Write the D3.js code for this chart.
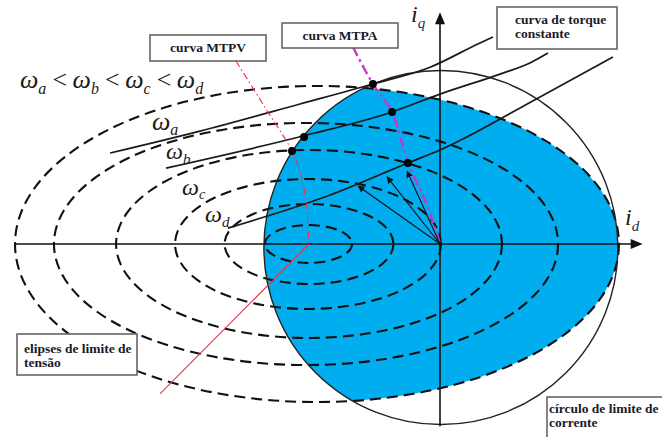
<!DOCTYPE html>
<html><head><meta charset="utf-8">
<script src="https://cdn.jsdelivr.net/npm/d3@7"></script>
<style>body{margin:0;background:#fff} svg{display:block}</style>
</head><body>
<svg id="chart" width="662" height="437"></svg>
<script>
// Voltage-limit ellipses (per-unit current): centre on the id axis and semi-axes
const ellipseCenters = [-0.743, -0.740, -0.746, -0.740, -0.757, -0.695];
const ellipseRx = [0.246, 0.477, 0.751, 1.090, 1.424, 1.706];
const ellipseRy = [0.107, 0.226, 0.367, 0.531, 0.684, 0.893];

// Current-limit circle
const circleCenter = [0.005, -0.02];
const circleRadius = 1.0;

// Constant-torque curves (id, iq)
const torqueA = [[-1.864,0.514],[-1.356,0.638],[-0.791,0.791],[-0.379,0.904],[-0.056,0.999],[0.226,1.136],[0.299,1.169]];
const torqueB = [[-1.548,0.429],[-0.774,0.610],[-0.271,0.746],[0,0.847],[0.339,0.960],[0.508,1.023],[0.610,1.079]];
const torqueC = [[-1.198,0.090],[-0.621,0.277],[-0.181,0.458],[0,0.531],[0.565,0.831],[0.977,1.056]];

// MTPV and MTPA trajectories
const mtpvUpper = [[-1.153,1.034],[-0.994,0.780],[-0.836,0.525],[-0.791,0.407],[-0.757,0.249],[-0.746,0.107],[-0.740,0]];
const mtpvLower = [[-0.740,0],[-1.582,-0.847]];
const mtpa = [[-0.492,1.113],[-0.379,0.904],[-0.271,0.746],[-0.181,0.458],[-0.085,0.249],[-0.028,0.090],[0,0]];

// Operating points and current vectors
const opPoints = [[-0.379,0.904],[-0.271,0.746],[-0.181,0.458],[-0.768,0.605],[-0.836,0.525]];
const vectorTips = [[-0.186,0.412],[-0.299,0.379],[-0.463,0.328]];

// Axis extents
const idExtent = [-2.40, 1.145];
const iqExtent = [-1.03, 1.31];

const svg = d3.select("#chart");
const x = d3.scaleLinear().domain([-1, 1]).range([263, 617]);
const y = d3.scaleLinear().domain([-1, 1]).range([421, 67]);
const k = x(1) - x(0);

const defs = svg.append("defs");
defs.append("clipPath").attr("id", "vlim")
  .append("ellipse")
  .attr("cx", x(ellipseCenters[5])).attr("cy", y(0))
  .attr("rx", ellipseRx[5] * k).attr("ry", ellipseRy[5] * k);
defs.append("marker").attr("id", "head")
  .attr("viewBox", "0 0 10 10").attr("refX", 9).attr("refY", 5)
  .attr("markerWidth", 7).attr("markerHeight", 7).attr("orient", "auto")
  .attr("markerUnits", "userSpaceOnUse")
  .append("path").attr("d", "M0,0 L10,5 L0,10 z").attr("fill", "#111");

// Feasible operating region
svg.append("ellipse")
  .attr("cx", x(circleCenter[0])).attr("cy", y(circleCenter[1]))
  .attr("rx", circleRadius * k).attr("ry", circleRadius * k)
  .attr("fill", "#00aeef").attr("clip-path", "url(#vlim)");

// Ellipses
svg.append("g").selectAll("ellipse").data(d3.range(ellipseRx.length)).join("ellipse")
  .attr("cx", i => x(ellipseCenters[i])).attr("cy", y(0))
  .attr("rx", i => ellipseRx[i] * k).attr("ry", i => ellipseRy[i] * k)
  .attr("fill", "none").attr("stroke", "#111").attr("stroke-width", 2.1)
  .attr("stroke-dasharray", "11,6");

// Current-limit circle
svg.append("ellipse")
  .attr("cx", x(circleCenter[0])).attr("cy", y(circleCenter[1]))
  .attr("rx", circleRadius * k).attr("ry", circleRadius * k)
  .attr("fill", "none").attr("stroke", "#222").attr("stroke-width", 1.4);

// Axes
const axisG = svg.append("g").attr("stroke", "#111").attr("stroke-width", 1.6);
axisG.append("line").attr("x1", x(idExtent[0])).attr("x2", x(idExtent[1]) - 8)
  .attr("y1", y(0)).attr("y2", y(0));
axisG.append("line").attr("x1", x(0)).attr("x2", x(0))
  .attr("y1", y(iqExtent[0])).attr("y2", y(iqExtent[1]) + 8);
svg.append("path")
  .attr("d", `M${x(idExtent[1])},${y(0)} l-12,-5 l0,10 z`).attr("fill", "#111");
svg.append("path")
  .attr("d", `M${x(0)},${y(iqExtent[1])} l-5,12 l10,0 z`).attr("fill", "#111");

// Constant-torque curves
const line = d3.line().x(d => x(d[0])).y(d => y(d[1])).curve(d3.curveMonotoneX);
svg.append("g").selectAll("path").data([torqueA, torqueB, torqueC]).join("path")
  .attr("d", line).attr("fill", "none").attr("stroke", "#1a1a1a")
  .attr("stroke-width", 1.7);

// MTPV
const lineCR = d3.line().x(d => x(d[0])).y(d => y(d[1])).curve(d3.curveCatmullRom);
svg.append("path").attr("d", lineCR(mtpvUpper)).attr("fill", "none")
  .attr("stroke", "#ee3340").attr("stroke-width", 1.1).attr("stroke-dasharray", "7,3,1.5,3");
svg.append("path").attr("d", lineCR(mtpvLower)).attr("fill", "none")
  .attr("stroke", "#ee3340").attr("stroke-width", 1.1);

// MTPA
svg.append("path").attr("d", lineCR(mtpa)).attr("fill", "none")
  .attr("stroke", "#cc33cc").attr("stroke-width", 2.4).attr("stroke-dasharray", "10,4,2.5,4");

// Current vectors
svg.append("g").selectAll("line").data(vectorTips).join("line")
  .attr("x1", x(0)).attr("y1", y(0))
  .attr("x2", d => x(d[0])).attr("y2", d => y(d[1]))
  .attr("stroke", "#111").attr("stroke-width", 1.1).attr("marker-end", "url(#head)");

// Operating points
svg.append("g").selectAll("circle").data(opPoints).join("circle")
  .attr("cx", d => x(d[0])).attr("cy", d => y(d[1])).attr("r", 4).attr("fill", "#000");

// Speed labels
const serif = "'Liberation Serif', 'Times New Roman', serif";
function omegaText(px, py, subs, size, subSize, shift) {
  const t = svg.append("text").attr("x", px).attr("y", py)
    .attr("font-family", serif).attr("font-style", "italic")
    .attr("font-size", size).attr("fill", "#1e1a16");
  subs.forEach((s, i) => {
    if (i > 0) t.append("tspan").attr("dy", -shift).text("\u2006<\u2006");
    t.append("tspan").text("\u03c9");
    t.append("tspan").attr("font-size", subSize).attr("dy", shift).text(s);
  });
}
omegaText(20, 88, ["a", "b", "c", "d"], 26, 16, 6);
omegaText(152, 130, ["a"], 26, 16, 5);
omegaText(166, 159, ["b"], 24, 15, 5);
omegaText(182, 195, ["c"], 24, 14, 4);
omegaText(205, 222, ["d"], 24, 15, 5);

// Axis labels
function axisLabel(px, py, main, sub) {
  const t = svg.append("text").attr("x", px).attr("y", py)
    .attr("font-family", serif).attr("font-style", "italic")
    .attr("font-size", 24).attr("fill", "#1e1a16");
  t.append("tspan").text(main);
  t.append("tspan").attr("font-size", 15).attr("dy", 6).attr("fill", "#23304f").text(sub);
}
axisLabel(411, 22, "i", "q");
axisLabel(625, 225, "i", "d");

// Annotation boxes
const boxes = [
  {x: 150, y: 35, w: 116, h: 26, lines: ["curva MTPV"], tx: 208, ty: 52, anchor: "middle"},
  {x: 282, y: 23, w: 116, h: 25, lines: ["curva MTPA"], tx: 340, ty: 40, anchor: "middle"},
  {x: 497, y: 7, w: 120, h: 42, lines: ["curva de torque", "constante"], tx: 515, ty: 24, anchor: "start"},
  {x: 17, y: 334, w: 120, h: 41, lines: ["elipses de limite de", "tensão"], tx: 24, ty: 353, anchor: "start"},
  {x: 547, y: 397, w: 140, h: 60, lines: ["círculo de limite de", "corrente"], tx: 549, ty: 413, anchor: "start"}
];
const bg = svg.append("g").selectAll("g").data(boxes).join("g");
bg.append("rect").attr("x", d => d.x).attr("y", d => d.y).attr("width", d => d.w).attr("height", d => d.h)
  .attr("fill", "#fff").attr("stroke", "#666").attr("stroke-width", 1.6);
bg.each(function(d) {
  const t = d3.select(this).append("text").attr("font-family", serif).attr("font-weight", "bold")
    .attr("font-size", 13.5).attr("fill", "#1a1a2a").attr("text-anchor", d.anchor);
  d.lines.forEach((l, i) => t.append("tspan").attr("x", d.tx).attr("y", d.ty + i * 14).text(l));
});
</script>
</body></html>
